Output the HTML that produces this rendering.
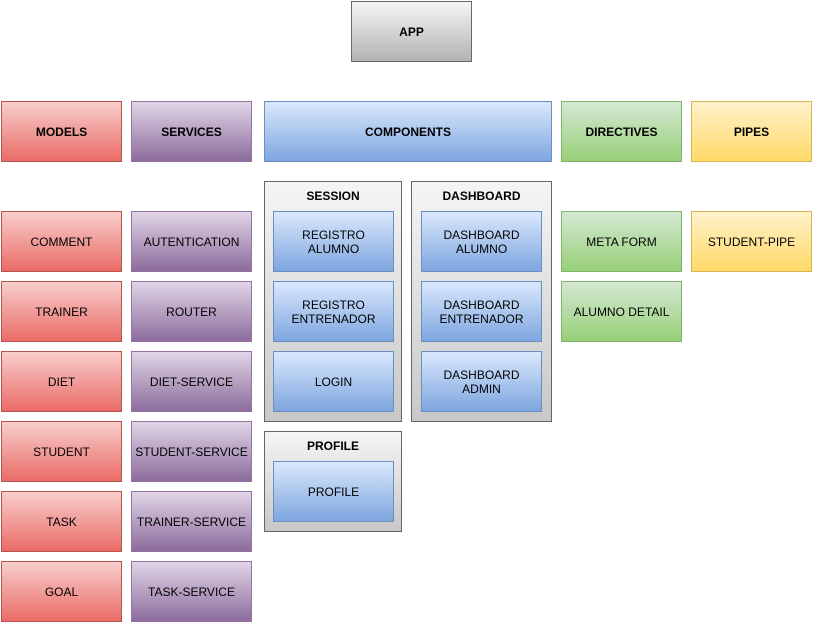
<!DOCTYPE html>
<html><head><meta charset="utf-8"><style>
body{margin:0;width:813px;height:623px;background:#fff;position:relative;overflow:hidden;font-family:"Liberation Sans",Arial,sans-serif;font-size:12px;color:#000}
.b{position:absolute;box-sizing:border-box;display:flex;align-items:center;justify-content:center;text-align:center;line-height:14px;border:1px solid}
.h{font-weight:bold}
.g{background:linear-gradient(#f5f5f5,#b3b3b3);border-color:#666}
.r{background:linear-gradient(#f8cecc,#ea6b66);border-color:#b85450}
.p{background:linear-gradient(#e1d5e7,#8c6c9c);border-color:#9673a6}
.bl{background:linear-gradient(#dae8fc,#7ea6e0);border-color:#6c8ebf}
.gr{background:linear-gradient(#d5e8d4,#97d077);border-color:#82b366}
.y{background:linear-gradient(#fff2cc,#ffd966);border-color:#d6b656}
.c{position:absolute;box-sizing:border-box;border:1px solid #666;background:linear-gradient(#f5f5f5,#c8c8c8)}
.ct{position:absolute;left:0;right:0;top:7px;text-align:center;font-weight:bold}
</style></head><body>
<div class="b g h" style="left:351px;top:1px;width:121px;height:61px">APP</div>

<div class="b r h" style="left:1px;top:101px;width:121px;height:61px">MODELS</div>
<div class="b p h" style="left:131px;top:101px;width:121px;height:61px">SERVICES</div>
<div class="b bl h" style="left:264px;top:101px;width:288px;height:61px">COMPONENTS</div>
<div class="b gr h" style="left:561px;top:101px;width:121px;height:61px">DIRECTIVES</div>
<div class="b y h" style="left:691px;top:101px;width:121px;height:61px">PIPES</div>

<div class="b r" style="left:1px;top:211px;width:121px;height:61px">COMMENT</div>
<div class="b r" style="left:1px;top:281px;width:121px;height:61px">TRAINER</div>
<div class="b r" style="left:1px;top:351px;width:121px;height:61px">DIET</div>
<div class="b r" style="left:1px;top:421px;width:121px;height:61px">STUDENT</div>
<div class="b r" style="left:1px;top:491px;width:121px;height:61px">TASK</div>
<div class="b r" style="left:1px;top:561px;width:121px;height:61px">GOAL</div>

<div class="b p" style="left:131px;top:211px;width:121px;height:61px">AUTENTICATION</div>
<div class="b p" style="left:131px;top:281px;width:121px;height:61px">ROUTER</div>
<div class="b p" style="left:131px;top:351px;width:121px;height:61px">DIET-SERVICE</div>
<div class="b p" style="left:131px;top:421px;width:121px;height:61px">STUDENT-SERVICE</div>
<div class="b p" style="left:131px;top:491px;width:121px;height:61px">TRAINER-SERVICE</div>
<div class="b p" style="left:131px;top:561px;width:121px;height:61px">TASK-SERVICE</div>

<div class="c" style="left:264px;top:181px;width:138px;height:241px"><div class="ct">SESSION</div></div>
<div class="c" style="left:411px;top:181px;width:141px;height:241px"><div class="ct">DASHBOARD</div></div>
<div class="c" style="left:264px;top:431px;width:138px;height:101px"><div class="ct">PROFILE</div></div>

<div class="b bl" style="left:273px;top:211px;width:121px;height:61px">REGISTRO<br>ALUMNO</div>
<div class="b bl" style="left:273px;top:281px;width:121px;height:61px">REGISTRO<br>ENTRENADOR</div>
<div class="b bl" style="left:273px;top:351px;width:121px;height:61px">LOGIN</div>
<div class="b bl" style="left:421px;top:211px;width:121px;height:61px">DASHBOARD<br>ALUMNO</div>
<div class="b bl" style="left:421px;top:281px;width:121px;height:61px">DASHBOARD<br>ENTRENADOR</div>
<div class="b bl" style="left:421px;top:351px;width:121px;height:61px">DASHBOARD<br>ADMIN</div>
<div class="b bl" style="left:273px;top:461px;width:121px;height:61px">PROFILE</div>

<div class="b gr" style="left:561px;top:211px;width:121px;height:61px">META FORM</div>
<div class="b gr" style="left:561px;top:281px;width:121px;height:61px">ALUMNO DETAIL</div>
<div class="b y" style="left:691px;top:211px;width:121px;height:61px">STUDENT-PIPE</div>
</body></html>
